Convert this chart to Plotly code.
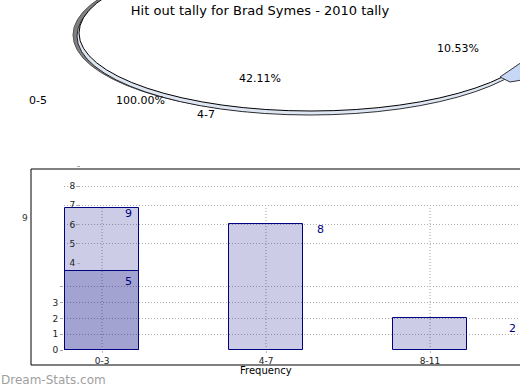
import plotly.graph_objects as go

# ---- data ----
categories = ["0-3", "4-7", "8-11"]
hit_outs = [9, 8, 2]
inner_values = [5, None, None]
bar_labels = ["9", "8", "2"]
inner_labels = ["5", "", ""]
lower_tick_values = [0, 1, 2, 3, 4]
lower_tick_text = ["0", "1", "2", "3", ""]
upper_tick_values = [6.72, 7.94, 9.16, 10.38, 11.6]
upper_tick_text = ["5", "6", "7", "8", ""]
odd_tick_values = [5.5]
odd_tick_text = ["4"]
pie_texts = ["0-5", "100.00%", "4-7", "42.11%", "10.53%"]
title_text = "Hit out tally for Brad Symes - 2010 tally"
x_title = "Frequency"
watermark = "Dream-Stats.com"

# ---- geometry helpers (pixel -> paper) ----
W, H = 520, 390
L, R, T, B = 64, 0, 166, 40
PW, PH = W - L - R, H - T - B


def px(x):
    return (x - L) / PW


def py(y):
    return (H - B - y) / PH


FONT = "DejaVu Sans"
NAVY = "#000080"

fig = go.Figure()
fig.add_trace(go.Bar(
    x=categories, y=hit_outs, width=0.45,
    marker=dict(color="rgba(0,0,128,0.2)", line=dict(color=NAVY, width=1)),
    hoverinfo="skip", yaxis="y",
))
fig.add_trace(go.Bar(
    x=categories, y=inner_values, width=0.45,
    marker=dict(color="rgba(0,0,128,0.2)", line=dict(color=NAVY, width=1)),
    hoverinfo="skip", yaxis="y",
))

DOT = "1px,2px"
shapes = []
# vertical dotted gridlines up to max value
for c in categories:
    shapes.append(dict(type="line", xref="x", yref="y", x0=c, x1=c, y0=0, y1=max(hit_outs),
                       line=dict(color="#a0a0b0", width=1, dash=DOT), layer="below"))
# outer frame
shapes.append(dict(type="rect", xref="paper", yref="paper",
                   x0=px(31), x1=px(522), y0=py(365), y1=py(169),
                   line=dict(color="black", width=1), fillcolor="rgba(0,0,0,0)"))
# pie glitch: shadow, depth, top ellipse
shapes.append(dict(type="circle", xref="paper", yref="paper",
                   x0=px(73), x1=px(539), y0=py(114), y1=py(-44),
                   fillcolor="#808080", line=dict(color="#555", width=1)))
shapes.append(dict(type="circle", xref="paper", yref="paper",
                   x0=px(77), x1=px(543), y0=py(115), y1=py(-43),
                   fillcolor="#dfe6f3", line=dict(color="black", width=0.8)))
shapes.append(dict(type="circle", xref="paper", yref="paper",
                   x0=px(79), x1=px(543), y0=py(111), y1=py(-45),
                   fillcolor="white", line=dict(color="black", width=1)))
slice_path = "M {:.5f},{:.5f} L {:.5f},{:.5f} L {:.5f},{:.5f} L {:.5f},{:.5f} Z".format(
    px(500), py(77), px(522), py(62), px(522), py(80), px(510), py(82))
shapes.append(dict(type="path", xref="paper", yref="paper", path=slice_path,
                   fillcolor="#c6d8f6", line=dict(color="#333", width=1)))

annotations = []
# bar value labels (pixel offsets from the bar's category centre / top)
bar_offsets = [(26, -6), (54, -6), (82, -10)]
for c, v, t, (dx, dy) in zip(categories, hit_outs, bar_labels, bar_offsets):
    annotations.append(dict(x=c, y=v, xref="x", yref="y", text=t, showarrow=False,
                            xanchor="center", yanchor="middle", xshift=dx, yshift=dy,
                            font=dict(family=FONT, size=11, color=NAVY)))
for c, v, t in zip(categories, inner_values, inner_labels):
    if v is not None and t:
        annotations.append(dict(x=c, y=v, xref="x", yref="y", text=t, showarrow=False,
                                xanchor="center", yanchor="middle", xshift=26, yshift=-10,
                                font=dict(family=FONT, size=11, color=NAVY)))


def label(text, x, y, size, color, anchor="center"):
    return dict(x=px(x), y=py(y), xref="paper", yref="paper", text=text,
                showarrow=False, xanchor=anchor, yanchor="middle",
                font=dict(family=FONT, size=size, color=color))


# pie labels
pie_pos = [(38, 100), (140, 100), (206, 114), (260, 78), (458, 48)]
for t, (x, y) in zip(pie_texts, pie_pos):
    annotations.append(label(t, x, y, 11, "black"))
# stray label, axis title, watermark
annotations.append(label(str(max(hit_outs)), 25, 218, 9, "#333"))
annotations.append(label(x_title, 266, 370, 10, "black"))
annotations.append(label(watermark, -1, 380, 12, "#a0a0a0", anchor="left"))

grid = dict(showgrid=True, gridcolor="#b0b0b0", griddash=DOT, gridwidth=1)
yrange = [0, PH / 15.8]
tickfont = dict(family=FONT, size=9, color="#222")

fig.update_layout(
    width=W, height=H, margin=dict(l=L, r=R, t=T, b=B, autoexpand=False),
    paper_bgcolor="white", plot_bgcolor="white", showlegend=False,
    barmode="overlay", bargap=0,
    title=dict(text=title_text, x=0.5, xanchor="center", xref="container",
               y=1 - 10 / H, yanchor="middle", yref="container",
               font=dict(family=FONT, size=13, color="black")),
    xaxis=dict(type="category", categoryorder="array", categoryarray=categories,
               range=[-(102 - L) / 164, -(102 - L) / 164 + PW / 164],
               showgrid=False, zeroline=False, showline=False,
               ticks="outside", ticklen=2, tickcolor="#bbb", tickfont=tickfont),
    yaxis=dict(range=yrange, tickvals=lower_tick_values, ticktext=lower_tick_text,
               zeroline=False, showline=False, ticks="outside", ticklen=3,
               tickcolor="#aaa", tickfont=tickfont, **grid),
    yaxis2=dict(range=yrange, overlaying="y", anchor="free", position=px(80),
                side="left", tickvals=upper_tick_values, ticktext=upper_tick_text,
                zeroline=False, showline=False, ticks="outside", ticklen=3,
                tickcolor="#aaa", tickfont=tickfont, **grid),
    yaxis3=dict(range=yrange, overlaying="y", anchor="free", position=px(80),
                side="left", tickvals=odd_tick_values, ticktext=odd_tick_text,
                showgrid=False, zeroline=False, showline=False, ticks="outside", ticklen=3,
                tickcolor="#aaa", tickfont=tickfont),
    shapes=shapes, annotations=annotations,
)
# invisible helper traces so y2/y3 render
fig.add_trace(go.Scatter(x=[categories[0]], y=[0], yaxis="y2", mode="markers",
                         marker=dict(opacity=0), hoverinfo="skip"))
fig.add_trace(go.Scatter(x=[categories[0]], y=[0], yaxis="y3", mode="markers",
                         marker=dict(opacity=0), hoverinfo="skip"))

fig.write_html("out.html", config={"displayModeBar": False},
               post_script="document.body.style.margin='0';document.body.style.overflow='hidden';")
